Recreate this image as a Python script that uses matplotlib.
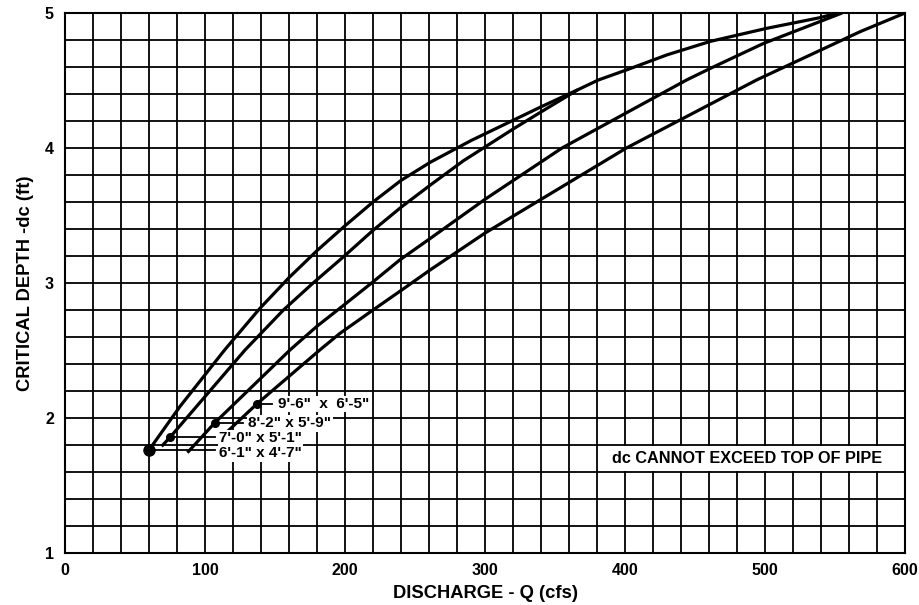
import numpy as np
import matplotlib
matplotlib.use("Agg")
import matplotlib.pyplot as plt
from matplotlib.patches import Rectangle

plt.rcParams['font.family'] = ['Liberation Sans', 'DejaVu Sans']

# critical depth curves: Q (cfs) vs dc (ft)
q_6x4 = [60, 82, 114, 139, 160, 180, 199, 220, 240, 261, 290, 320, 340, 366]
dc_6x4 = [1.763, 2.084, 2.504, 2.81, 3.04, 3.24, 3.415, 3.60, 3.76, 3.895, 4.055, 4.205, 4.305, 4.43]

q_7x5 = [69, 75, 128.6, 156, 177, 199, 220, 240.5, 261, 284.5, 320, 340, 366, 381, 401, 430, 461, 501, 539, 552]
dc_7x5 = [1.79, 1.857, 2.504, 2.80, 2.998, 3.195, 3.39, 3.565, 3.726, 3.905, 4.14, 4.267, 4.43, 4.504, 4.578, 4.69, 4.79, 4.886, 4.965, 5.0]

q_8x5 = [87.4, 107, 160.7, 180, 199, 219, 239, 261, 300, 355, 400, 444, 461, 499, 555]
dc_8x5 = [1.743, 1.965, 2.504, 2.68, 2.835, 3.0, 3.17, 3.331, 3.62, 4.0, 4.255, 4.504, 4.59, 4.775, 5.0]

q_9x6 = [115, 137, 182, 196.4, 220, 240.5, 260.7, 300, 401, 494, 568, 600]
dc_9x6 = [1.89, 2.104, 2.504, 2.627, 2.80, 2.948, 3.096, 3.37, 4.0, 4.504, 4.862, 5.0]

# label anchor points (dots) and label text
labels = ['6\'-1" x 4\'-7"', '7\'-0" x 5\'-1"', '8\'-2" x 5\'-9"', '9\'-6"  x  6\'-5"']
dot_q = [60, 75, 107, 137]
dot_dc = [1.763, 1.857, 1.965, 2.104]
lead_end = [107, 107, 127, 147.6]
text_q = [110, 110, 131, 152]
text_dc = [1.738, 1.850, 1.960, 2.104]

fig = plt.figure(figsize=(9.2, 6.05), dpi=100)
ax = fig.add_axes([0.0707, 0.086, 0.913, 0.8925])

ax.set_xlim(0, 600)
ax.set_ylim(1, 5)
ax.set_xticks(np.arange(0, 601, 100))
ax.set_xticks(np.arange(0, 601, 20), minor=True)
ax.set_yticks(np.arange(1, 5.01, 1))
ax.set_yticks(np.arange(1, 5.01, 0.2), minor=True)
ax.grid(which='both', color='black', lw=1.3)
ax.set_axisbelow(True)
ax.tick_params(which='both', length=0)
ax.tick_params(axis='x', pad=7, labelsize=11.5)
ax.tick_params(axis='y', pad=8, labelsize=11.5)
for t in ax.get_xticklabels() + ax.get_yticklabels():
    t.set_fontweight('bold')
for s in ax.spines.values():
    s.set_linewidth(1.5)

for q, dc in [(q_6x4, dc_6x4), (q_7x5, dc_7x5), (q_8x5, dc_8x5), (q_9x6, dc_9x6)]:
    ax.plot(q, dc, color='black', lw=2.3, solid_capstyle='butt', solid_joinstyle='round', zorder=3)

for i in range(4):
    ax.plot([dot_q[i], lead_end[i]], [dot_dc[i], dot_dc[i]], color='black', lw=1.3, zorder=3)
    ax.plot(dot_q[i], dot_dc[i], 'o', color='black', ms=8 if i == 0 else 5.5, zorder=4)
    ax.text(text_q[i], text_dc[i], labels[i], fontsize=11, fontweight='bold',
            va='center', ha='left', zorder=5,
            bbox=dict(boxstyle='square,pad=0.08', facecolor='white', edgecolor='none'))

# white band behind the note
ax.add_patch(Rectangle((382, 1.606), 217, 0.188, facecolor='white', edgecolor='none', zorder=1))
ax.text(391, 1.7, 'dc CANNOT EXCEED TOP OF PIPE', fontsize=11.7, fontweight='bold',
        va='center', ha='left', zorder=5)

ax.set_xlabel('DISCHARGE - Q (cfs)', fontsize=13.2, fontweight='bold', labelpad=5)
ax.set_ylabel('CRITICAL DEPTH -dc (ft)', fontsize=13.2, fontweight='bold', labelpad=8)

plt.savefig('out.png', dpi=100)
